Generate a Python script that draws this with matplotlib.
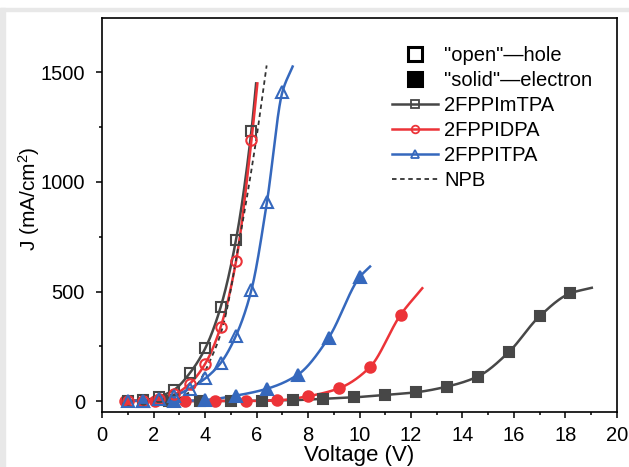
import matplotlib
matplotlib.use('Agg')
import matplotlib.pyplot as plt
import numpy as np
from matplotlib.lines import Line2D
from matplotlib.patches import Rectangle

plt.rcParams['font.family'] = ['Liberation Sans', 'DejaVu Sans']
plt.rcParams['mathtext.default'] = 'regular'

# hole-only devices (open markers)
v_hole = [1.0, 1.6, 2.2, 2.8, 3.4, 4.0, 4.6, 5.2, 5.8]
j_imtpa_h = [0, 4, 20, 52, 127, 240, 428, 737, 1235]
j_idpa_h = [0, 2, 8, 30, 79, 170, 337, 638, 1190]
v_itpa_h = [1.0, 1.6, 2.2, 2.8, 3.4, 4.0, 4.6, 5.2, 5.8, 6.4, 7.0]
j_itpa_h = [0, 2, 8, 24, 57, 103, 173, 299, 508, 907, 1410]

# electron-only devices (solid markers)
v_imtpa_e = [2.6, 3.8, 5.0, 6.2, 7.4, 8.6, 9.8, 11.0, 12.2, 13.4, 14.6, 15.8, 17.0, 18.2]
j_imtpa_e = [0, 0, 0, 2, 4, 10, 17, 28, 40, 66, 112, 223, 387, 492]
v_idpa_e = [0.9, 2.05, 3.2, 4.4, 5.6, 6.8, 8.0, 9.2, 10.4, 11.6]
j_idpa_e = [0, 0, 0, 0, 0, 3, 22, 58, 154, 394]
v_itpa_e = [1.6, 2.8, 4.0, 5.2, 6.4, 7.6, 8.8, 10.0]
j_itpa_e = [0, 0, 5, 25, 56, 120, 289, 565]

# where each fitted curve ends past its last marker (V, J)
tail_imtpa_h = (5.98, 1450)
tail_idpa_h = (6.03, 1450)
tail_itpa_h = (7.40, 1527)
tail_imtpa_e = (19.03, 517)
tail_idpa_e = (12.44, 515)
tail_itpa_e = (10.41, 614)

# NPB reference (dashed, no markers)
v_npb = [2.0, 2.9, 3.6, 4.25, 4.68, 5.33, 5.98, 6.39]
j_npb = [0, 10, 63, 200, 337, 733, 1190, 1532]

names = ['2FPPImTPA', '2FPPIDPA', '2FPPITPA']
colors = ['#474747', '#ec3338', '#3568bd']
markers = ['s', 'o', '^']
msizes = [6.5, 7.5, 8.5]


def pchip(x, y, xs):
    # monotone cubic, so the fitted curves do not overshoot
    x = np.asarray(x, float)
    y = np.asarray(y, float)
    h = np.diff(x)
    d = np.diff(y) / h
    m = np.zeros_like(y)
    m[0] = d[0]
    m[-1] = d[-1]
    for k in range(1, len(x) - 1):
        if d[k - 1] * d[k] <= 0:
            m[k] = 0
        else:
            w1 = 2 * h[k] + h[k - 1]
            w2 = h[k] + 2 * h[k - 1]
            m[k] = (w1 + w2) / (w1 / d[k - 1] + w2 / d[k])
    idx = np.clip(np.searchsorted(x, xs) - 1, 0, len(x) - 2)
    t = (xs - x[idx]) / h[idx]
    h00 = 2 * t**3 - 3 * t**2 + 1
    h10 = t**3 - 2 * t**2 + t
    h01 = -2 * t**3 + 3 * t**2
    h11 = t**3 - t**2
    return h00 * y[idx] + h10 * h[idx] * m[idx] + h01 * y[idx + 1] + h11 * h[idx] * m[idx + 1]


def draw(ax, v, j, tail, color, marker, ms, filled):
    vv = list(v) + [tail[0]]
    jj = list(j) + [tail[1]]
    xs = np.linspace(vv[0], vv[-1], 400)
    ax.plot(xs, pchip(vv, jj, xs), color=color, lw=1.8, zorder=2)
    ax.plot(v, j, ls='none', marker=marker, ms=ms, mew=1.5, mec=color,
            mfc=color if filled else 'none', zorder=3)


fig = plt.figure(figsize=(6.29, 4.67), dpi=100)
ax = fig.add_axes([0.1626, 0.1178, 0.8179, 0.8443])

hole = [(v_hole, j_imtpa_h, tail_imtpa_h), (v_hole, j_idpa_h, tail_idpa_h),
        (v_itpa_h, j_itpa_h, tail_itpa_h)]
elec = [(v_imtpa_e, j_imtpa_e, tail_imtpa_e), (v_idpa_e, j_idpa_e, tail_idpa_e),
        (v_itpa_e, j_itpa_e, tail_itpa_e)]

for i in range(3):
    draw(ax, *elec[i], colors[i], markers[i], msizes[i], True)
for i in range(3):
    draw(ax, *hole[i], colors[i], markers[i], msizes[i], False)

xs = np.linspace(v_npb[0], v_npb[-1], 300)
ax.plot(xs, pchip(v_npb, j_npb, xs), color='#333333', lw=1.3, ls=(0, (2.5, 2)), zorder=2)

ax.set_xlim(0, 20)
ax.set_ylim(-50, 1750)
ax.set_xticks(np.arange(0, 21, 2))
ax.set_xticks(np.arange(1, 20, 2), minor=True)
ax.set_yticks([0, 500, 1000, 1500])
ax.set_yticks([250, 750, 1250], minor=True)
ax.tick_params(which='major', direction='out', length=4.5, width=1.1, labelsize=14.5)
ax.tick_params(which='minor', direction='out', length=2.5, width=1.1)
ax.tick_params(axis='x', which='major', pad=5.5)
ax.tick_params(axis='y', which='major', pad=8)
for s in ax.spines.values():
    s.set_linewidth(1.2)
ax.set_xlabel('Voltage (V)', fontsize=16, labelpad=0)
ax.set_ylabel('J (mA/cm$^{2}$)', fontsize=15)
ax.yaxis.set_label_coords(-0.118, 0.54)

handles = [
    Line2D([], [], ls='none', marker='s', ms=10, mew=2.2, mec='black', mfc='none'),
    Line2D([], [], ls='none', marker='s', ms=10, mew=2.2, mec='black', mfc='black'),
]
for i in range(3):
    handles.append(Line2D([], [], color=colors[i], lw=1.8, marker=markers[i], ms=5.5,
                          mew=1.3, mfc='none', mec=colors[i]))
handles.append(Line2D([], [], color='#333333', lw=1.3, ls=(0, (2.5, 2))))
labels = ['"open"\u2014hole', '"solid"\u2014electron'] + names + ['NPB']
ax.legend(handles, labels, loc='upper left', bbox_to_anchor=(0.563, 0.927),
          frameon=False, fontsize=14.5, borderpad=0, borderaxespad=0,
          handlelength=2.3, handletextpad=0.3, labelspacing=0.29)

# light grey screenshot edge
fig.patches.append(Rectangle((0, 1 - 11 / 467), 1, 3 / 467, transform=fig.transFigure,
                             color='#e8e8e8', zorder=-1))
fig.patches.append(Rectangle((0, 0), 5 / 629, 1 - 8 / 467, transform=fig.transFigure,
                             color='#e8e8e8', zorder=-1))

fig.savefig('out.png', dpi=100)
